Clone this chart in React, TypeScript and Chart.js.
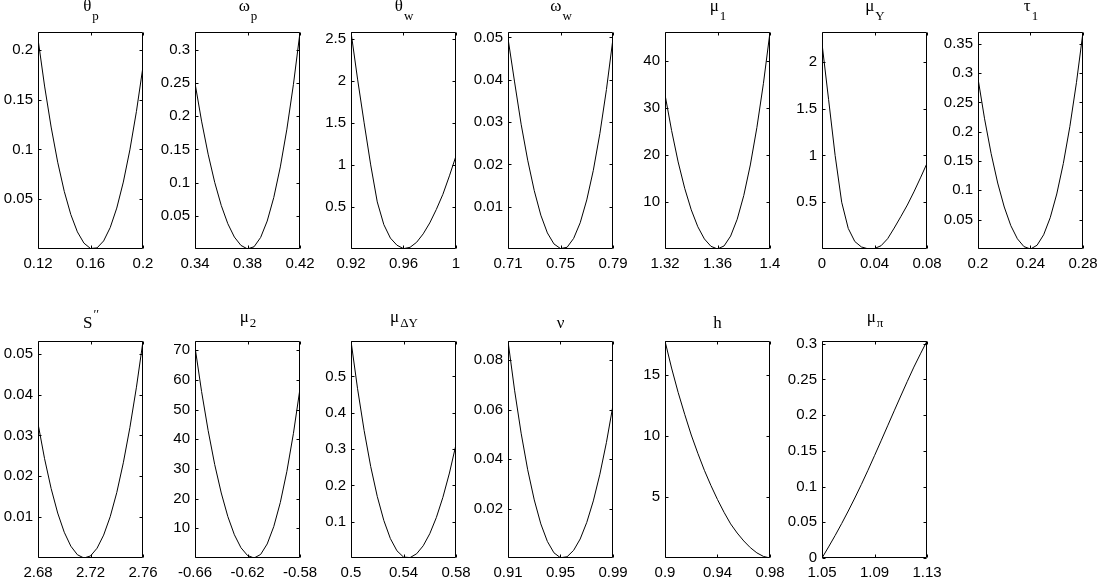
import React, { useEffect, useRef } from "react";
import { Chart, registerables } from "chart.js";
Chart.register(...registerables);

// ---------- data ----------
const xThetaP = [0.12, 0.125, 0.13, 0.135, 0.14, 0.145, 0.15, 0.155, 0.16, 0.165, 0.17, 0.175, 0.18, 0.185, 0.19, 0.195, 0.2];
const yThetaP = [0.211, 0.1637, 0.1225, 0.0872, 0.0579, 0.0346, 0.0172, 0.0059, 0.0005, 0.0011, 0.0081, 0.0215, 0.0411, 0.0672, 0.0996, 0.1383, 0.1834];

const xOmegaP = [0.34, 0.345, 0.35, 0.355, 0.36, 0.365, 0.37, 0.375, 0.38, 0.385, 0.39, 0.395, 0.4, 0.405, 0.41, 0.415, 0.42];
const yOmegaP = [0.25, 0.1927, 0.1429, 0.1005, 0.0656, 0.0381, 0.018, 0.0054, 0.0001, 0.0034, 0.0174, 0.0421, 0.0775, 0.1237, 0.1806, 0.2482, 0.3266];

const xThetaW = [0.92, 0.925, 0.93, 0.935, 0.94, 0.945, 0.95, 0.955, 0.96, 0.965, 0.97, 0.975, 0.98, 0.985, 0.99, 0.995, 1.0];
const yThetaW = [2.58, 2.02, 1.5, 1.0, 0.56, 0.29, 0.13, 0.045, 0.004, 0.02, 0.08, 0.18, 0.31, 0.47, 0.65, 0.87, 1.107];

const xOmegaW = [0.71, 0.715, 0.72, 0.725, 0.73, 0.735, 0.74, 0.745, 0.75, 0.755, 0.76, 0.765, 0.77, 0.775, 0.78, 0.785, 0.79];
const yOmegaW = [0.0498, 0.0395, 0.0295, 0.021, 0.0138, 0.008, 0.0038, 0.0012, 0.0001, 0.0004, 0.0025, 0.0062, 0.0116, 0.0186, 0.0273, 0.0377, 0.0498];

const xMu1 = [1.32, 1.325, 1.33, 1.335, 1.34, 1.345, 1.35, 1.355, 1.36, 1.365, 1.37, 1.375, 1.38, 1.385, 1.39, 1.395, 1.4];
const yMu1 = [32.8, 25.2, 18.5, 12.9, 8.32, 4.73, 2.14, 0.57, 0.002, 0.65, 2.75, 6.32, 11.35, 17.85, 25.8, 35.2, 46.1];

const xMuY = [0, 0.005, 0.01, 0.015, 0.02, 0.025, 0.03, 0.035, 0.04, 0.045, 0.05, 0.055, 0.06, 0.065, 0.07, 0.075, 0.08];
const yMuY = [2.197, 1.6, 1.0, 0.5, 0.22, 0.08, 0.022, 0.002, 0.005, 0.035, 0.11, 0.224, 0.345, 0.47, 0.61, 0.76, 0.916];

const xTau1 = [0.2, 0.205, 0.21, 0.215, 0.22, 0.225, 0.23, 0.235, 0.24, 0.245, 0.25, 0.255, 0.26, 0.265, 0.27, 0.275, 0.28];
const yTau1 = [0.2907, 0.222, 0.1627, 0.1125, 0.0716, 0.0398, 0.0174, 0.0041, 0.0, 0.0064, 0.0242, 0.0533, 0.0938, 0.1458, 0.209, 0.2837, 0.3698];

const xS = [2.68, 2.685, 2.69, 2.695, 2.7, 2.705, 2.71, 2.715, 2.72, 2.725, 2.73, 2.735, 2.74, 2.745, 2.75, 2.755, 2.76];
const yS = [0.0329, 0.0243, 0.017, 0.011, 0.0063, 0.0029, 0.0008, 0.0, 0.0005, 0.0024, 0.0056, 0.0101, 0.016, 0.0233, 0.0319, 0.0418, 0.0531];

const xMu2 = [-0.66, -0.655, -0.65, -0.645, -0.64, -0.635, -0.63, -0.625, -0.62, -0.615, -0.61, -0.605, -0.6, -0.595, -0.59, -0.585, -0.58];
const yMu2 = [71.1, 56.1, 42.96, 31.5, 21.9, 13.97, 7.83, 3.46, 0.85, 0, 1.2, 4.73, 10.57, 18.7, 29.2, 42.0, 57.1];

const xMuDY = [0.5, 0.505, 0.51, 0.515, 0.52, 0.525, 0.53, 0.535, 0.54, 0.545, 0.55, 0.555, 0.56, 0.565, 0.57, 0.575, 0.58];
const yMuDY = [0.5975, 0.466, 0.351, 0.252, 0.1696, 0.1034, 0.0534, 0.0198, 0.0026, 0.0011, 0.0117, 0.0336, 0.0668, 0.1112, 0.167, 0.234, 0.3124];

const xNu = [0.91, 0.915, 0.92, 0.925, 0.93, 0.935, 0.94, 0.945, 0.95, 0.955, 0.96, 0.965, 0.97, 0.975, 0.98, 0.985, 0.99];
const yNu = [0.0878, 0.0679, 0.0505, 0.0357, 0.0235, 0.0138, 0.0067, 0.0021, 0.0001, 0.0005, 0.0031, 0.0077, 0.0144, 0.0231, 0.0339, 0.0468, 0.0618];

const xH = [0.9, 0.905, 0.91, 0.915, 0.92, 0.925, 0.93, 0.935, 0.94, 0.945, 0.95, 0.955, 0.96, 0.965, 0.97, 0.975, 0.98];
const yH = [17.82, 15.6, 13.6, 11.8, 10.1, 8.6, 7.2, 5.95, 4.8, 3.75, 2.8, 2.05, 1.4, 0.85, 0.42, 0.13, 0];

const xMuPi = [1.05, 1.055, 1.06, 1.065, 1.07, 1.075, 1.08, 1.085, 1.09, 1.095, 1.1, 1.105, 1.11, 1.115, 1.12, 1.125, 1.13];
const yMuPi = [0, 0.0155, 0.0315, 0.0483, 0.0658, 0.084, 0.103, 0.1228, 0.1433, 0.164, 0.185, 0.206, 0.2268, 0.2473, 0.2673, 0.2858, 0.3038];

// tick labels
const xtThetaP = [0.12, 0.16, 0.2];
const ytThetaP = [0.05, 0.1, 0.15, 0.2];
const xtOmegaP = [0.34, 0.38, 0.42];
const ytOmegaP = [0.05, 0.1, 0.15, 0.2, 0.25, 0.3];
const xtThetaW = [0.92, 0.96, 1];
const ytThetaW = [0.5, 1, 1.5, 2, 2.5];
const xtOmegaW = [0.71, 0.75, 0.79];
const ytOmegaW = [0.01, 0.02, 0.03, 0.04, 0.05];
const xtMu1 = [1.32, 1.36, 1.4];
const ytMu1 = [10, 20, 30, 40];
const xtMuY = [0, 0.04, 0.08];
const ytMuY = [0.5, 1, 1.5, 2];
const xtTau1 = [0.2, 0.24, 0.28];
const ytTau1 = [0.05, 0.1, 0.15, 0.2, 0.25, 0.3, 0.35];
const xtS = [2.68, 2.72, 2.76];
const ytS = [0.01, 0.02, 0.03, 0.04, 0.05];
const xtMu2 = [-0.66, -0.62, -0.58];
const ytMu2 = [10, 20, 30, 40, 50, 60, 70];
const xtMuDY = [0.5, 0.54, 0.58];
const ytMuDY = [0.1, 0.2, 0.3, 0.4, 0.5];
const xtNu = [0.91, 0.95, 0.99];
const ytNu = [0.02, 0.04, 0.06, 0.08];
const xtH = [0.9, 0.94, 0.98];
const ytH = [5, 10, 15];
const xtMuPi = [1.05, 1.09, 1.13];
const ytMuPi = [0, 0.05, 0.1, 0.15, 0.2, 0.25, 0.3];

// y-axis upper limits
const yMaxes = [0.218, 0.327, 2.58, 0.0513, 46.1, 2.32, 0.37, 0.0531, 73.1, 0.5975, 0.0878, 17.82, 0.3038];

// ---------- panels ----------
type Panel = {
  xs: number[]; ys: number[]; xt: number[]; yt: number[]; yMax: number;
  main: string; sub?: string; sup?: string; row: number; col: number;
};

const panels: Panel[] = [
  { xs: xThetaP, ys: yThetaP, xt: xtThetaP, yt: ytThetaP, yMax: yMaxes[0], main: "θ", sub: "p", row: 0, col: 0 },
  { xs: xOmegaP, ys: yOmegaP, xt: xtOmegaP, yt: ytOmegaP, yMax: yMaxes[1], main: "ω", sub: "p", row: 0, col: 1 },
  { xs: xThetaW, ys: yThetaW, xt: xtThetaW, yt: ytThetaW, yMax: yMaxes[2], main: "θ", sub: "w", row: 0, col: 2 },
  { xs: xOmegaW, ys: yOmegaW, xt: xtOmegaW, yt: ytOmegaW, yMax: yMaxes[3], main: "ω", sub: "w", row: 0, col: 3 },
  { xs: xMu1, ys: yMu1, xt: xtMu1, yt: ytMu1, yMax: yMaxes[4], main: "μ", sub: "1", row: 0, col: 4 },
  { xs: xMuY, ys: yMuY, xt: xtMuY, yt: ytMuY, yMax: yMaxes[5], main: "μ", sub: "Y", row: 0, col: 5 },
  { xs: xTau1, ys: yTau1, xt: xtTau1, yt: ytTau1, yMax: yMaxes[6], main: "τ", sub: "1", row: 0, col: 6 },
  { xs: xS, ys: yS, xt: xtS, yt: ytS, yMax: yMaxes[7], main: "S", sup: "′′", row: 1, col: 0 },
  { xs: xMu2, ys: yMu2, xt: xtMu2, yt: ytMu2, yMax: yMaxes[8], main: "μ", sub: "2", row: 1, col: 1 },
  { xs: xMuDY, ys: yMuDY, xt: xtMuDY, yt: ytMuDY, yMax: yMaxes[9], main: "μ", sub: "ΔY", row: 1, col: 2 },
  { xs: xNu, ys: yNu, xt: xtNu, yt: ytNu, yMax: yMaxes[10], main: "ν", row: 1, col: 3 },
  { xs: xH, ys: yH, xt: xtH, yt: ytH, yMax: yMaxes[11], main: "h", row: 1, col: 4 },
  { xs: xMuPi, ys: yMuPi, xt: xtMuPi, yt: ytMuPi, yMax: yMaxes[12], main: "μ", sub: "π", row: 1, col: 5 },
];

// layout
const COL_LEFT = [38, 195, 351, 508, 665, 822, 978];
const ROW_TOP = [32, 341];
const BOX_W = 105;
const BOX_H = 217;
const PAD_L = 46;
const PAD_T = 34;
const PAD_R = 24;
const PAD_B = 28;

const fmt = (v: number) => String(Number(v.toFixed(6)));

const framePlugin = {
  id: "frame",
  afterDraw(chart: any, _args: any, opts: any) {
    const { ctx, chartArea: ca } = chart;
    const xs = chart.scales.x;
    const ys = chart.scales.y;
    ctx.save();
    ctx.strokeStyle = "#000";
    ctx.lineWidth = 1;
    ctx.beginPath();
    const L = Math.round(ca.left) + 0.5;
    const R = Math.round(ca.right) - 0.5;
    const T = Math.round(ca.top) + 0.5;
    const B = Math.round(ca.bottom) - 0.5;
    ctx.rect(L, T, R - L, B - T);
    const tl = 3;
    for (const t of xs.ticks) {
      const px = Math.round(xs.getPixelForValue(t.value)) + 0.5;
      ctx.moveTo(px, B);
      ctx.lineTo(px, B - tl);
      ctx.moveTo(px, T);
      ctx.lineTo(px, T + tl);
    }
    for (const t of ys.ticks) {
      const py = Math.round(ys.getPixelForValue(t.value)) + 0.5;
      ctx.moveTo(L, py);
      ctx.lineTo(L + tl, py);
      ctx.moveTo(R, py);
      ctx.lineTo(R - tl, py);
    }
    ctx.stroke();

    // title with sub/superscript
    const cx = (ca.left + ca.right) / 2;
    const mainFont = "17px 'Liberation Serif'";
    const subFont = "13px 'Liberation Serif'";
    ctx.fillStyle = "#000";
    ctx.textAlign = "left";
    ctx.textBaseline = "alphabetic";
    ctx.font = mainFont;
    const w1 = ctx.measureText(opts.main).width;
    let w2 = 0;
    const extra = opts.sub || opts.sup || "";
    if (extra) {
      ctx.font = subFont;
      w2 = ctx.measureText(extra).width;
    }
    const start = cx - (w1 + w2) / 2;
    const top = ca.top;
    let mainBase: number;
    let subBase: number;
    if (opts.row === 0) {
      mainBase = top - 21;
      subBase = top - 12;
    } else if (opts.sub) {
      mainBase = top - 19;
      subBase = top - 14;
    } else {
      mainBase = top - 13;
      subBase = top - 23;
    }
    ctx.font = mainFont;
    ctx.fillText(opts.main, start, mainBase);
    if (extra) {
      ctx.font = subFont;
      ctx.fillText(extra, start + w1 + 1, subBase);
    }
    ctx.restore();
  },
};

function SubChart({ p }: { p: Panel }) {
  const ref = useRef<HTMLCanvasElement>(null);
  const W = BOX_W + PAD_L + PAD_R;
  const H = BOX_H + PAD_T + PAD_B;
  useEffect(() => {
    if (!ref.current) return;
    const chart = new Chart(ref.current, {
      type: "line",
      data: {
        datasets: [
          {
            data: p.xs.map((x, i) => ({ x, y: p.ys[i] })),
            borderColor: "#000",
            borderWidth: 1,
            pointRadius: 0,
            tension: 0,
            fill: false,
          },
        ],
      },
      options: {
        animation: false,
        responsive: false,
        events: [],
        layout: { padding: { left: 0, top: PAD_T, right: PAD_R, bottom: 0 } },
        plugins: {
          legend: { display: false },
          tooltip: { enabled: false },
          frame: { main: p.main, sub: p.sub, sup: p.sup, row: p.row },
        } as any,
        scales: {
          x: {
            type: "linear",
            min: p.xt[0],
            max: p.xt[p.xt.length - 1],
            grid: { display: false, drawTicks: false },
            border: { display: false },
            afterBuildTicks: (s: any) => {
              s.ticks = p.xt.map((v) => ({ value: v }));
            },
            afterFit: (s: any) => {
              s.height = PAD_B;
            },
            ticks: {
              padding: 6,
              maxRotation: 0,
              autoSkip: false,
              color: "#000",
              font: { family: "'Liberation Sans'", size: 15 },
              callback: (v: any) => fmt(Number(v)),
            },
          },
          y: {
            type: "linear",
            min: 0,
            max: p.yMax,
            grid: { display: false, drawTicks: false },
            border: { display: false },
            afterBuildTicks: (s: any) => {
              s.ticks = p.yt.map((v) => ({ value: v }));
            },
            afterFit: (s: any) => {
              s.width = PAD_L;
            },
            ticks: {
              padding: 5,
              autoSkip: false,
              color: "#000",
              font: { family: "'Liberation Sans'", size: 15 },
              callback: (v: any) => fmt(Number(v)),
            },
          },
        },
      },
      plugins: [framePlugin],
    } as any);
    return () => chart.destroy();
  }, [p]);
  return (
    <canvas
      ref={ref}
      width={W}
      height={H}
      style={{
        position: "absolute",
        left: COL_LEFT[p.col] - PAD_L,
        top: ROW_TOP[p.row] - PAD_T,
        width: W,
        height: H,
      }}
    />
  );
}

export default function App() {
  return (
    <div
      style={{
        position: "absolute",
        left: 0,
        top: 0,
        width: 1099,
        height: 578,
        background: "#fff",
        overflow: "hidden",
      }}
    >
      {panels.map((p, i) => (
        <SubChart key={i} p={p} />
      ))}
    </div>
  );
}
